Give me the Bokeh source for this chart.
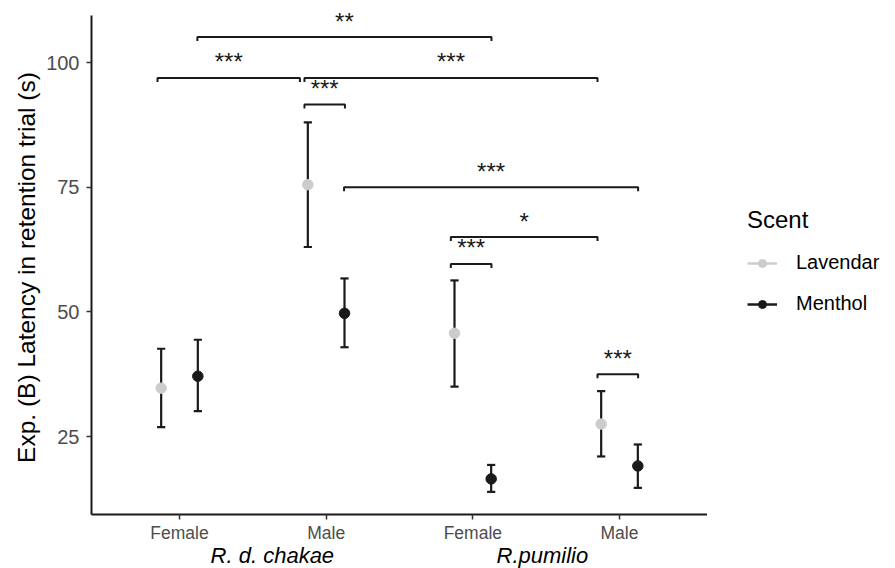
import math
from bokeh.plotting import figure
from bokeh.layouts import row, column
from bokeh.models import (ColumnDataSource, FixedTicker, Range1d,
                          Legend, LegendItem)
from bokeh.core.properties import value
from bokeh.embed import file_html
from bokeh.resources import INLINE

# ---- data ----
groups = ["R. d. chakae Female", "R. d. chakae Male", "R.pumilio Female", "R.pumilio Male"]
group_pos = [1, 2, 3, 4]
sex_labels = ["Female", "Male", "Female", "Male"]
species_labels = ["R. d. chakae", "R.pumilio"]
species_pos = [1.633, 3.474]
scents = ["Lavendar", "Menthol"]
y_title = "Exp. (B) Latency in retention trial (s)"
y_ticks = [25, 50, 75, 100]

lav_mean = [34.7, 75.5, 45.7, 27.5]
lav_low = [26.9, 63.0, 35.0, 21.0]
lav_high = [42.6, 88.0, 56.3, 34.1]

men_mean = [37.1, 49.7, 16.5, 19.1]
men_low = [30.1, 42.9, 13.9, 14.7]
men_high = [44.4, 56.7, 19.3, 23.4]

br_xmin = [1.122, 0.850, 1.852, 1.852, 2.122, 2.850, 2.850, 3.850]
br_xmax = [3.127, 1.821, 3.850, 2.128, 4.127, 3.850, 3.127, 4.127]
br_y = [105.1, 96.9, 96.9, 91.6, 75.0, 65.0, 59.6, 37.5]
br_lab = ["**", "***", "***", "***", "***", "*", "***", "***"]

LAV = "#cccccc"
MEN = "#1a1a1a"
FONT = "Liberation Sans"

dodge = 0.125
cap = 0.028
tip = 0.8

LEFT_STRIP = 42
LEFT_BORDER = 49


def bare(fig):
    fig.axis.visible = False
    fig.grid.visible = False
    fig.outline_line_color = None
    fig.background_fill_color = "white"
    fig.border_fill_color = "white"


xr = Range1d(0.4, 4.6)
main_w = 707 - LEFT_STRIP

# ---- main plot ----
p = figure(width=main_w, height=520, output_backend="svg", toolbar_location=None,
           x_range=xr, y_range=Range1d(9.36, 110.83),
           min_border_left=LEFT_BORDER, min_border_right=0, min_border_top=8,
           min_border_bottom=6)
p.background_fill_color = "white"
p.border_fill_color = "white"
p.outline_line_color = None
p.xgrid.visible = False
p.ygrid.visible = False

xa = p.xaxis[0]
xa.ticker = FixedTicker(ticks=group_pos)
xa.major_label_overrides = {g: "" for g in group_pos}
xa.major_label_standoff = 0
xa.minor_tick_line_color = None
xa.major_tick_out = 5
xa.major_tick_in = 0
xa.major_tick_line_color = "#333333"
xa.major_tick_line_width = 1.5
xa.axis_line_color = "#1a1a1a"
xa.axis_line_width = 2

ya = p.yaxis[0]
ya.ticker = FixedTicker(ticks=y_ticks)
ya.bounds = (9.36, 109.4)
ya.minor_tick_line_color = None
ya.major_tick_out = 5
ya.major_tick_in = 0
ya.major_tick_line_color = "#333333"
ya.major_tick_line_width = 1.5
ya.axis_line_color = "#1a1a1a"
ya.axis_line_width = 2
ya.major_label_text_font = FONT
ya.major_label_text_font_size = "20px"
ya.major_label_text_color = "#4d4d4d"
ya.major_label_standoff = 7


def series(mean, low, high, off, color):
    xs = [g + off for g in group_pos]
    src = ColumnDataSource(dict(x=xs, m=mean, lo=low, hi=high,
                                cl=[x - cap for x in xs], cr=[x + cap for x in xs]))
    p.segment(x0="x", y0="lo", x1="x", y1="hi", source=src, line_color=MEN, line_width=2.2)
    p.segment(x0="cl", y0="lo", x1="cr", y1="lo", source=src, line_color=MEN, line_width=2.2)
    p.segment(x0="cl", y0="hi", x1="cr", y1="hi", source=src, line_color=MEN, line_width=2.2)
    p.scatter(x="x", y="m", source=src, size=10.5, fill_color=color, line_color=color)


series(lav_mean, lav_low, lav_high, -dodge, LAV)
series(men_mean, men_low, men_high, dodge, MEN)

bx = [[a, a, b, b] for a, b in zip(br_xmin, br_xmax)]
by = [[y - tip, y, y, y - tip] for y in br_y]
p.multi_line(xs=bx, ys=by, line_color=MEN, line_width=2)
p.text(x=[(a + b) / 2 for a, b in zip(br_xmin, br_xmax)], y=br_y, text=br_lab,
       text_align="center", text_baseline="alphabetic", y_offset=-16,
       text_font=value(FONT), text_font_size="24px", text_color="#1a1a1a")

# ---- bottom strip: x tick labels and species labels ----
bs = figure(width=main_w, height=48, output_backend="svg", toolbar_location=None,
            x_range=xr, y_range=Range1d(0, 48),
            min_border_left=LEFT_BORDER, min_border_right=0, min_border_top=0,
            min_border_bottom=0)
bare(bs)
bs.text(x=group_pos, y=[35.3] * len(group_pos), text=sex_labels,
        text_align="center", text_baseline="middle",
        text_font=value(FONT), text_font_size="17.5px", text_color="#4d4d4d")
bs.text(x=species_pos, y=[12.6] * len(species_pos), text=species_labels,
        text_align="center", text_baseline="middle",
        text_font=value(FONT), text_font_size="22px", text_font_style="italic",
        text_color="#000000")

# ---- left strip: y axis title ----
ls = figure(width=LEFT_STRIP, height=568, output_backend="svg", toolbar_location=None,
            x_range=Range1d(0, LEFT_STRIP), y_range=Range1d(0, 568), min_border=0)
bare(ls)
ls.text(x=[25.5], y=[301], text=[y_title], angle=math.pi / 2,
        text_align="center", text_baseline="middle",
        text_font=value(FONT), text_font_size="24.5px", text_color="#000000")

# ---- legend panel ----
lf = figure(width=188, height=568, output_backend="svg", toolbar_location=None,
            x_range=Range1d(0, 1), y_range=Range1d(0, 1), min_border=0)
bare(lf)
nan = float("nan")
items = []
for name, col in zip(scents, [LAV, MEN]):
    ln = lf.line(x=[nan, nan], y=[nan, nan], line_color=col, line_width=2.5)
    sc = lf.scatter(x=[nan], y=[nan], size=10, fill_color=col, line_color=col)
    items.append(LegendItem(label=name, renderers=[ln, sc]))
legend = Legend(items=items, location=(40, 253))
legend.title = "Scent"
legend.title_text_font = FONT
legend.title_text_font_size = "24px"
legend.title_text_font_style = "normal"
legend.title_text_color = "#000000"
legend.title_standoff = 17
legend.label_text_font = FONT
legend.label_text_font_size = "20px"
legend.label_text_color = "#000000"
legend.glyph_width = 30
legend.glyph_height = 20
legend.label_height = 20
legend.label_standoff = 19
legend.spacing = 18
legend.padding = 0
legend.margin = 0
legend.border_line_color = None
legend.background_fill_alpha = 0
lf.add_layout(legend, "center")

layout = row(ls, column(p, bs, spacing=0), lf, spacing=0)
open("out.html", "w").write(file_html(layout, INLINE))
